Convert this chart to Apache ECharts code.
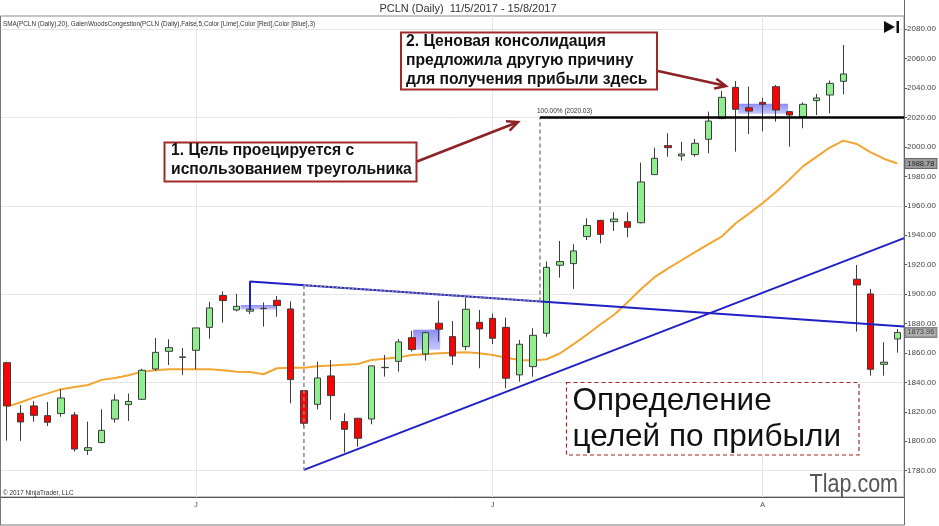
<!DOCTYPE html>
<html>
<head>
<meta charset="utf-8">
<script src="https://cdn.jsdelivr.net/npm/echarts@6/dist/echarts.min.js"></script>
<style>
  html, body { margin: 0; padding: 0; background: #fff; }
  #chart { width: 939px; height: 526px; }
</style>
</head>
<body>
<div id="chart"></div>
<script>
// trading days 11 May - 15 Aug 2017
const dates = [
  '2017-05-11','2017-05-12','2017-05-15','2017-05-16','2017-05-17','2017-05-18','2017-05-19','2017-05-22','2017-05-23','2017-05-24',
  '2017-05-25','2017-05-26','2017-05-30','2017-05-31','2017-06-01','2017-06-02','2017-06-05','2017-06-06','2017-06-07','2017-06-08',
  '2017-06-09','2017-06-12','2017-06-13','2017-06-14','2017-06-15','2017-06-16','2017-06-19','2017-06-20','2017-06-21','2017-06-22',
  '2017-06-23','2017-06-26','2017-06-27','2017-06-28','2017-06-29','2017-06-30','2017-07-03','2017-07-05','2017-07-06','2017-07-07',
  '2017-07-10','2017-07-11','2017-07-12','2017-07-13','2017-07-14','2017-07-17','2017-07-18','2017-07-19','2017-07-20','2017-07-21',
  '2017-07-24','2017-07-25','2017-07-26','2017-07-27','2017-07-28','2017-07-31','2017-08-01','2017-08-02','2017-08-03','2017-08-04',
  '2017-08-07','2017-08-08','2017-08-09','2017-08-10','2017-08-11','2017-08-14','2017-08-15'
];
const opens = [
  1853.4, 1819.0, 1824.0, 1817.4, 1818.8, 1817.9, 1793.8, 1799.1, 1815.1, 1824.9,
  1828.5, 1849.1, 1861.1, 1857.0, 1861.8, 1877.4, 1899.0, 1889.2, 1888.4, 1890.3,
  1895.8, 1889.9, 1834.4, 1825.1, 1844.4, 1813.3, 1815.6, 1815.1, 1850.0, 1854.3,
  1870.4, 1859.3, 1880.2, 1871.1, 1864.3, 1880.8, 1883.5, 1877.4, 1845.1, 1850.7,
  1873.4, 1919.6, 1920.7, 1939.1, 1950.1, 1949.2, 1949.2, 1948.5, 1981.2, 2000.9,
  1993.9, 1994.8, 2005.2, 2019.4, 2040.5, 2026.7, 2030.3, 2041.0, 2024.0, 2020.6,
  2031.5, 2035.3, 2044.6, 1910.1, 1900.1, 1852.3, 1869.5
];
const closes = [
  1824.0, 1813.1, 1817.6, 1812.9, 1829.4, 1794.7, 1795.6, 1807.4, 1828.0, 1827.1,
  1848.2, 1860.4, 1863.6, 1857.3, 1877.0, 1890.6, 1895.6, 1891.7, 1889.8, 1890.1,
  1892.2, 1841.9, 1812.2, 1843.0, 1831.0, 1808.1, 1802.0, 1851.2, 1850.2, 1867.5,
  1862.3, 1873.8, 1876.1, 1857.9, 1889.7, 1876.3, 1870.0, 1842.8, 1865.9, 1872.0,
  1918.2, 1922.1, 1929.3, 1946.6, 1940.6, 1951.0, 1945.4, 1976.2, 1992.3, 1999.5,
  1995.2, 2002.5, 2017.6, 2033.7, 2025.6, 2024.4, 2029.0, 2025.1, 2021.7, 2029.0,
  2033.3, 2043.2, 2049.6, 1906.2, 1848.9, 1853.7, 1873.96
];
const lows = [
  1800.4, 1800.2, 1813.3, 1810.4, 1816.7, 1793.0, 1790.7, 1798.6, 1812.6, 1813.8,
  1828.0, 1847.8, 1851.8, 1845.1, 1848.9, 1869.7, 1880.6, 1888.3, 1886.5, 1877.9,
  1884.7, 1825.8, 1810.0, 1821.7, 1814.5, 1792.3, 1796.3, 1811.5, 1843.9, 1847.3,
  1860.9, 1854.8, 1867.7, 1851.8, 1862.0, 1849.6, 1866.0, 1836.0, 1840.5, 1843.9,
  1871.0, 1911.2, 1903.5, 1936.8, 1934.5, 1942.9, 1938.6, 1948.0, 1981.0, 1993.4,
  1990.7, 1993.4, 1995.7, 2018.8, 1996.8, 2008.8, 2010.6, 2017.2, 2000.2, 2012.7,
  2021.7, 2022.9, 2035.8, 1874.5, 1844.6, 1844.6, 1860.2
];
const highs = [
  1854.0, 1824.6, 1827.4, 1826.7, 1835.3, 1819.9, 1813.3, 1821.7, 1831.9, 1832.4,
  1849.3, 1870.2, 1869.3, 1863.4, 1877.0, 1894.7, 1901.9, 1900.1, 1892.5, 1894.4,
  1898.7, 1895.1, 1834.4, 1854.1, 1855.2, 1819.0, 1815.6, 1851.2, 1858.6, 1869.5,
  1875.0, 1874.5, 1895.6, 1881.7, 1897.6, 1889.2, 1886.7, 1884.0, 1868.8, 1876.8,
  1922.1, 1936.1, 1933.9, 1951.5, 1950.5, 1955.6, 1955.6, 1989.3, 1999.5, 2009.3,
  2003.4, 2005.4, 2024.0, 2038.0, 2044.8, 2041.0, 2033.3, 2042.1, 2024.5, 2030.3,
  2036.0, 2045.1, 2069.3, 1919.8, 1903.5, 1867.3, 1876.3
];
// SMA(20)
const sma = [
  1823.5, 1826.5, 1829.8, 1832.5, 1835.4, 1836.8, 1838.2, 1841.7, 1843.0, 1844.8,
  1847.3, 1848.2, 1848.9, 1848.9, 1848.9, 1848.9, 1848.2, 1847.3, 1847.1, 1845.5,
  1849.6, 1850.0, 1850.0, 1851.0, 1851.5, 1852.0, 1852.5, 1855.2, 1856.0, 1857.0,
  1858.6, 1859.2, 1859.8, 1860.2, 1860.5, 1859.8, 1858.6, 1856.8, 1855.2, 1854.8,
  1855.7, 1859.8, 1866.0, 1872.5, 1879.5, 1886.0, 1894.5, 1903.5, 1911.5, 1917.5,
  1923.0, 1928.5, 1934.0, 1939.3, 1948.0, 1954.7, 1961.7, 1969.4, 1977.8, 1986.8,
  1993.3, 1999.6, 2004.3, 2002.0, 1996.5, 1992.0, 1988.78
];
// drawing tools, [bar index, price]
const upperTrend = [[18, 1889.0], [18, 1908.6], [66.5, 1877.9]];
const lowerTrend = [[22, 1780.5], [66.5, 1938.0]];
const triangleHeight = [[22, 1906.1], [22, 1780.5]];
const breakoutLine = [[22, 1906.1], [39.5, 1895.0]];
const projection = [[39.5, 1895.0], [39.5, 2020.03]];
const targetLine = [[39.5, 2020.03], [66.5, 2020.03]];
const congestionBoxes = [
  [[17.3, 1892.6], [20.0, 1889.6]],
  [[30.1, 1875.8], [32.1, 1862.2]],
  [[54.2, 2029.3], [57.9, 2022.5]]
];
const yTicks = [1780, 1800, 1820, 1840, 1860, 1880, 1900, 1920, 1940, 1960, 1980, 2000, 2020, 2040, 2060, 2080];
const gridPrices = [1780, 1840, 1900, 1960, 2020, 2080];
const monthLetters = ['J', 'F', 'M', 'A', 'M', 'J', 'J', 'A', 'S', 'O', 'N', 'D'];

const FONT = "'Liberation Sans', Arial, sans-serif";
const monthOf = d => parseInt(d.slice(5, 7), 10);
const isMonthStart = i => i > 0 && monthOf(dates[i]) !== monthOf(dates[i - 1]);
const monthStarts = dates.map((d, i) => i).filter(isMonthStart);

const candles = opens.map((o, i) => [o, closes[i], lows[i], highs[i]]);

const chart = echarts.init(document.getElementById('chart'));

// arrow helper for the callouts (pixel space)
function arrow(x1, y1, x2, y2, color) {
  const a = Math.atan2(y2 - y1, x2 - x1);
  const len = 11, w = 5;
  const bx = x2 - len * Math.cos(a), by = y2 - len * Math.sin(a);
  return [
    { type: 'line', shape: { x1, y1, x2: x2 - 2 * Math.cos(a), y2: y2 - 2 * Math.sin(a) }, style: { stroke: color, lineWidth: 2.5 } },
    { type: 'polyline', shape: { points: [[bx + w * Math.sin(a), by - w * Math.cos(a)], [x2, y2], [bx - w * Math.sin(a), by + w * Math.cos(a)]] },
      style: { stroke: color, lineWidth: 2.5, fill: null } }
  ];
}

const calloutRed = '#a3282a';
const arrowRed = '#8c2126';
const boldFont = 'bold 15.7px ' + FONT;

const option = {
  animation: false,
  backgroundColor: '#fff',
  textStyle: { fontFamily: FONT },
  grid: { left: 0.5, right: 34, top: 16, bottom: 29, show: true, borderColor: '#8a8a8a', borderWidth: 1, backgroundColor: '#fff' },
  xAxis: [
    {
      type: 'category', data: dates, boundaryGap: true,
      axisLine: { onZero: false, lineStyle: { color: '#555' } },
      axisTick: { alignWithLabel: true, interval: i => isMonthStart(i), length: 3, lineStyle: { color: '#555' } },
      axisLabel: { interval: i => isMonthStart(i), formatter: v => monthLetters[monthOf(v) - 1], fontSize: 7, color: '#444', margin: 5 },
      splitLine: { show: false }
    },
    { type: 'value', min: -0.5, max: 66.5, show: false }
  ],
  yAxis: {
    type: 'value', position: 'right', min: 1762.1, max: 2089.0,
    axisLine: { show: true, onZero: false, lineStyle: { color: '#555' } },
    axisTick: { show: true, length: 3, customValues: yTicks, lineStyle: { color: '#555' } },
    axisLabel: { customValues: yTicks, formatter: v => v.toFixed(2), fontSize: 8, color: '#444', margin: 3 },
    splitLine: { show: false }
  },
  graphic: [
    { type: 'line', shape: { x1: 0.5, y1: 16, x2: 0.5, y2: 525 }, style: { stroke: '#777', lineWidth: 1 }, z: 100 },
    { type: 'line', shape: { x1: 0, y1: 525, x2: 904.5, y2: 525 }, style: { stroke: '#777', lineWidth: 1 }, z: 100 },
    { type: 'line', shape: { x1: 904.5, y1: 0, x2: 904.5, y2: 525 }, style: { stroke: '#666', lineWidth: 1 }, z: 100 },
    { type: 'text', x: 468, y: 9, style: { text: 'PCLN (Daily)  11/5/2017 - 15/8/2017', font: '11px ' + FONT, fill: '#333', align: 'center', verticalAlign: 'middle' } },
    { type: 'text', x: 3, y: 24, style: { text: 'SMA(PCLN (Daily),20), GalenWoodsCongestion(PCLN (Daily),False,5,Color [Lime],Color [Red],Color [Blue],3)', font: '6.4px ' + FONT, fill: '#333', verticalAlign: 'middle' }, z: 50 },
    { type: 'text', x: 3, y: 493, style: { text: '© 2017 NinjaTrader, LLC', font: '6.4px ' + FONT, fill: '#333', verticalAlign: 'middle' }, z: 50 },
    { type: 'polygon', shape: { points: [[884, 21], [884, 33], [895, 27]] }, style: { fill: '#111' }, z: 50 },
    { type: 'rect', shape: { x: 896.5, y: 21, width: 2.5, height: 12 }, style: { fill: '#111' }, z: 50 },
    // callout 2
    { type: 'rect', shape: { x: 401, y: 32.5, width: 256, height: 57 }, style: { fill: '#fff', stroke: calloutRed, lineWidth: 2 }, z: 60 },
    { type: 'text', x: 406, y: 41.5, style: { text: '2. Ценовая консолидация', font: boldFont, fill: '#111', verticalAlign: 'middle' }, z: 61 },
    { type: 'text', x: 406, y: 60.8, style: { text: 'предложила другую причину', font: boldFont, fill: '#111', verticalAlign: 'middle' }, z: 61 },
    { type: 'text', x: 406, y: 79.8, style: { text: 'для получения прибыли здесь', font: boldFont, fill: '#111', verticalAlign: 'middle' }, z: 61 },
    // callout 1
    { type: 'rect', shape: { x: 164.5, y: 142.5, width: 252, height: 39 }, style: { fill: '#fff', stroke: calloutRed, lineWidth: 2 }, z: 60 },
    { type: 'text', x: 171, y: 150.8, style: { text: '1. Цель проецируется с', font: boldFont, fill: '#111', verticalAlign: 'middle' }, z: 61 },
    { type: 'text', x: 171, y: 169.8, style: { text: 'использованием треугольника', font: boldFont, fill: '#111', verticalAlign: 'middle' }, z: 61 },
    ...arrow(417, 161.5, 518, 122, arrowRed).map(e => Object.assign(e, { z: 62 })),
    ...arrow(658, 71, 726, 86, arrowRed).map(e => Object.assign(e, { z: 62 })),
    // big caption
    { type: 'rect', shape: { x: 566.5, y: 382.5, width: 292.5, height: 72.5 }, style: { fill: '#fff', stroke: calloutRed, lineWidth: 1.2, lineDash: [4, 3] }, z: 60 },
    { type: 'text', x: 572.5, y: 401.3, style: { text: 'Определение', font: '31.5px ' + FONT, fill: '#111', verticalAlign: 'middle' }, z: 61 },
    { type: 'text', x: 572.5, y: 437.6, style: { text: 'целей по прибыли', font: '31.5px ' + FONT, fill: '#111', verticalAlign: 'middle' }, z: 61 },
    { type: 'text', x: 898, y: 485, scaleX: 0.86, style: { text: 'Tlap.com', font: '25px ' + FONT, fill: '#555', align: 'right', verticalAlign: 'middle' }, z: 61 }
  ],
  series: [
    {
      name: 'grid', type: 'line', xAxisIndex: 1, data: [], z: 0, silent: true,
      markLine: {
        silent: true, symbol: 'none', label: { show: false }, animation: false, z: 0,
        lineStyle: { color: '#e6e6e6', width: 1, type: 'solid' },
        data: [...gridPrices.map(v => ({ yAxis: v })), ...monthStarts.map(i => ({ xAxis: i }))]
      }
    },
    {
      name: 'congestion', type: 'line', xAxisIndex: 1, data: [], z: 1, silent: true,
      markArea: {
        silent: true, z: 1,
        itemStyle: {
          color: new echarts.graphic.LinearGradient(0, 0, 0, 1, [
            { offset: 0, color: 'rgba(100,100,240,0.75)' },
            { offset: 1, color: 'rgba(150,150,245,0.55)' }
          ])
        },
        data: congestionBoxes.map(b => [{ coord: b[0] }, { coord: b[1] }])
      }
    },
    {
      name: 'SMA', type: 'line', data: sma, symbol: 'none', z: 2,
      lineStyle: { color: '#f2a531', width: 2 },
      endLabel: {
        show: true, formatter: p => p.value.toFixed(2), distance: 8,
        fontSize: 7.5, color: '#222', backgroundColor: '#9c9c9c', borderColor: '#666', borderWidth: 1, padding: [1, 2, 0, 2]
      }
    },
    {
      name: 'PCLN', type: 'candlestick', data: candles, barWidth: 7, z: 3,
      itemStyle: { color: '#90ee90', color0: '#ff0000', borderColor: '#3c3c3c', borderColor0: '#3c3c3c', borderWidth: 1 }
    },
    {
      name: 'last', type: 'scatter', xAxisIndex: 1, symbolSize: 0, z: 5,
      data: [[66, closes[closes.length - 1]]],
      label: {
        show: true, position: 'right', distance: 8, formatter: p => p.value[1].toFixed(2),
        fontSize: 7.5, color: '#222', backgroundColor: '#9c9c9c', borderColor: '#666', borderWidth: 1, padding: [1, 2, 0, 2]
      }
    },
    { name: 'upper', type: 'line', xAxisIndex: 1, data: upperTrend, symbol: 'none', z: 4, lineStyle: { color: '#1f1fc4', width: 2 } },
    { name: 'lower', type: 'line', xAxisIndex: 1, data: lowerTrend, symbol: 'none', z: 4, lineStyle: { color: '#1f1fc4', width: 2 } },
    { name: 'height', type: 'line', xAxisIndex: 1, data: triangleHeight, symbol: 'none', z: 5, lineStyle: { color: '#888', width: 1.5, type: [4, 3] } },
    { name: 'breakout', type: 'line', xAxisIndex: 1, data: breakoutLine, symbol: 'none', z: 5, lineStyle: { color: '#999', width: 1.5, type: [2, 2] } },
    { name: 'projection', type: 'line', xAxisIndex: 1, data: projection, symbol: 'none', z: 5, lineStyle: { color: '#888', width: 1.5, type: [4, 3] } },
    {
      name: 'target', type: 'line', xAxisIndex: 1, symbol: 'circle', symbolSize: 0, showSymbol: true, z: 5,
      lineStyle: { color: '#000', width: 2.5 },
      data: [
        { value: targetLine[0], label: { show: true, position: 'top', align: 'left', offset: [-3, 0], distance: 3, formatter: '100.00% (' + targetLine[0][1].toFixed(2) + ')', fontSize: 6.5, color: '#333' } },
        targetLine[1]
      ]
    }
  ]
};
chart.setOption(option);
</script>
</body>
</html>
